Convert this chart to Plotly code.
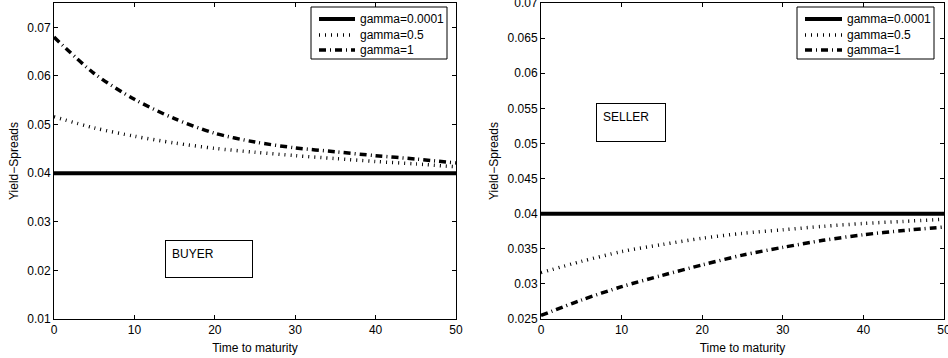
import plotly.graph_objects as go

# Maturities (years) at which the spreads are evaluated
maturity = [0, 5, 10, 15, 20, 25, 30, 35, 40, 45, 50]

# Buyer side yield spreads
buyer_g0001 = [0.04, 0.04, 0.04, 0.04, 0.04, 0.04, 0.04, 0.04, 0.04, 0.04, 0.04]
buyer_g05 = [0.0516, 0.0493, 0.0476, 0.0462, 0.0451, 0.0443, 0.0436, 0.0430, 0.0424, 0.0419, 0.0413]
buyer_g1 = [0.0680, 0.0605, 0.0552, 0.0512, 0.0482, 0.0464, 0.0452, 0.0444, 0.0436, 0.0429, 0.0421]

# Seller side yield spreads
seller_g0001 = [0.04, 0.04, 0.04, 0.04, 0.04, 0.04, 0.04, 0.04, 0.04, 0.04, 0.04]
seller_g05 = [0.0316, 0.0332, 0.0346, 0.0356, 0.0365, 0.0372, 0.0377, 0.0382, 0.0386, 0.0389, 0.0392]
seller_g1 = [0.0255, 0.0277, 0.0296, 0.0312, 0.0327, 0.0341, 0.0352, 0.0362, 0.0370, 0.0376, 0.0381]

series_names = ["gamma=0.0001", "gamma=0.5", "gamma=1"]

x_ticks = [0, 10, 20, 30, 40, 50]
buyer_yticks = [0.01, 0.02, 0.03, 0.04, 0.05, 0.06, 0.07]
buyer_yticklabels = ["0.01", "0.02", "0.03", "0.04", "0.05", "0.06", "0.07"]
seller_yticks = [0.025, 0.03, 0.035, 0.04, 0.045, 0.05, 0.055, 0.06, 0.065, 0.07]
seller_yticklabels = ["0.025", "0.03", "0.035", "0.04", "0.045", "0.05", "0.055", "0.06", "0.065", "0.07"]

W, H = 948, 358
FONT = "Liberation Sans, Arial, Helvetica, sans-serif"

styles = [
    dict(color="black", width=4, dash="solid"),
    dict(color="#000000", width=3.5, dash="1px,5px"),
    dict(color="black", width=3.5, dash="7px,4px,1px,4px"),
]


def px_x(p):
    return p / W


def px_y(p):
    return 1 - p / H


fig = go.Figure()

for vals, name, st in zip([buyer_g0001, buyer_g05, buyer_g1], series_names, styles):
    fig.add_trace(go.Scatter(
        x=maturity, y=vals, name=name, mode="lines", showlegend=False,
        line=dict(color=st["color"], width=st["width"], dash=st["dash"], shape="spline", smoothing=0.8),
        xaxis="x", yaxis="y",
    ))

for vals, name, st in zip([seller_g0001, seller_g05, seller_g1], series_names, styles):
    fig.add_trace(go.Scatter(
        x=maturity, y=vals, name=name, mode="lines", showlegend=False,
        line=dict(color=st["color"], width=st["width"], dash=st["dash"], shape="spline", smoothing=0.8),
        xaxis="x2", yaxis="y2",
    ))


axis_common = dict(
    showline=True, linecolor="black", linewidth=1, mirror="ticks",
    ticks="inside", ticklen=4, tickcolor="black", tickwidth=1,
    showgrid=False, zeroline=False, automargin=False,
    ticklabeloverflow="allow",
    tickfont=dict(family=FONT, size=12, color="black"),
)

title_font = dict(family=FONT, size=12, color="black")

fig.update_layout(
    width=W, height=H,
    margin=dict(l=0, r=0, t=0, b=0),
    paper_bgcolor="white", plot_bgcolor="white",
    font=dict(family=FONT, size=12, color="black"),
    showlegend=False,
    xaxis=dict(axis_common, domain=[px_x(54), px_x(456)], range=[0, 50],
               tickvals=x_ticks, anchor="y",
               title=dict(text="Time to maturity", font=title_font, standoff=7)),
    yaxis=dict(axis_common, domain=[px_y(319), px_y(3)], range=[0.01, 0.075],
               tickvals=buyer_yticks, ticktext=buyer_yticklabels, anchor="x",
               title=dict(text="Yield\u2212Spreads", font=title_font, standoff=6)),
    xaxis2=dict(axis_common, domain=[px_x(541), px_x(944)], range=[0, 50],
                tickvals=x_ticks, anchor="y2",
                title=dict(text="Time to maturity", font=title_font, standoff=7)),
    yaxis2=dict(axis_common, domain=[px_y(319), px_y(3)], range=[0.025, 0.07],
                tickvals=seller_yticks, ticktext=seller_yticklabels, anchor="x2",
                title=dict(text="Yield\u2212Spreads", font=title_font, standoff=6)),
)


# Framed legend keyed to the line styles, one per panel
def add_legend(left, right, top, bottom, key_x0, key_x1, text_x, rows):
    fig.add_shape(type="rect", xref="paper", yref="paper", layer="above",
                  x0=px_x(left), x1=px_x(right), y0=px_y(bottom), y1=px_y(top),
                  line=dict(color="black", width=1), fillcolor="white")
    for name, st, ry in zip(series_names, styles, rows):
        fig.add_shape(type="line", xref="paper", yref="paper", layer="above",
                      x0=px_x(key_x0), x1=px_x(key_x1), y0=px_y(ry), y1=px_y(ry),
                      line=dict(color=st["color"], width=st["width"], dash=st["dash"]))
        fig.add_annotation(xref="paper", yref="paper", showarrow=False,
                           x=px_x(text_x), y=px_y(ry), xanchor="left", yanchor="middle",
                           text=name, font=dict(family=FONT, size=12, color="black"))


add_legend(311, 447, 7, 59, 319, 355, 358, [19, 35, 50])
add_legend(797, 934, 7, 59, 805, 842, 845, [19, 35, 50])

# Side labels in framed boxes
box_common = dict(
    xref="paper", yref="paper", showarrow=False,
    align="left", valign="top", bordercolor="black", borderwidth=1,
    borderpad=6, bgcolor="rgba(0,0,0,0)",
    font=dict(family=FONT, size=12, color="black"),
    xanchor="left", yanchor="top",
)
fig.add_annotation(box_common, text="BUYER", x=px_x(165), y=px_y(240), width=74, height=24)
fig.add_annotation(box_common, text="SELLER", x=px_x(596), y=px_y(103), width=56, height=25)

fig.write_html("out.html")
